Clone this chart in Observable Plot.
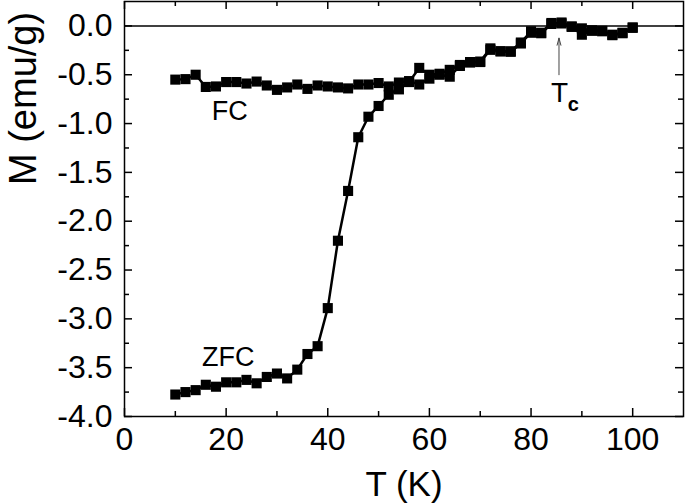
<!DOCTYPE html>
<html><head><meta charset="utf-8">
<script src="https://cdn.jsdelivr.net/npm/d3@7"></script>
<script src="https://cdn.jsdelivr.net/npm/@observablehq/plot@0.6"></script>
<style>body{margin:0;background:#fff} #chart svg{display:block}</style>
</head><body><div id="chart"></div>
<script>
// Temperature (K)
const temps = [10,12,14,16,18,20,22,24,26,28,30,32,34,36,38,40,42,44,46,48,50,52,54,56,58,60,62,64,66,68,70,72,74,76,78,80,82,84,86,88,90,92,94,96,98,100];
// Field-cooled magnetization (emu/g)
const fcM = [-0.55,-0.545,-0.50,-0.625,-0.62,-0.575,-0.575,-0.59,-0.57,-0.61,-0.655,-0.63,-0.60,-0.645,-0.61,-0.62,-0.63,-0.64,-0.60,-0.60,-0.585,-0.62,-0.58,-0.565,-0.60,-0.54,-0.50,-0.52,-0.41,-0.375,-0.37,-0.245,-0.26,-0.265,-0.18,-0.07,-0.075,0.02,0.035,-0.01,-0.025,-0.05,-0.055,-0.09,-0.075,-0.02];
// Zero-field-cooled magnetization (emu/g)
const zfcM = [-3.775,-3.75,-3.73,-3.675,-3.695,-3.65,-3.65,-3.625,-3.66,-3.595,-3.56,-3.61,-3.52,-3.36,-3.28,-2.89,-2.20,-1.69,-1.14,-0.93,-0.82,-0.705,-0.65,-0.575,-0.43,-0.50,-0.49,-0.45,-0.40,-0.37,-0.365,-0.23,-0.26,-0.26,-0.17,-0.055,-0.07,0.03,0.025,-0.005,-0.09,-0.045,-0.05,-0.095,-0.07,-0.015];

const xTickLabels = [0,20,40,60,80,100];
const xMinorTicks = [10,30,50,70,90];
const yTickLabels = [-4,-3.5,-3,-2.5,-2,-1.5,-1,-0.5,0];
const yMinorTicks = [-3.75,-3.25,-2.75,-2.25,-1.75,-1.25,-0.75,-0.25];

const curveLabels = [{T: 20.7, M: -0.87, text: "FC"}, {T: 20.4, M: -3.39, text: "ZFC"}];
const tcArrow = [{T: 85.5, M1: -0.50, M2: -0.125}];
const tcLabel = [{T: 85.6, M: -0.69}];
const tcSub = [{T: 88.3, M: -0.81}];

const fc = temps.map((t, i) => ({T: t, M: fcM[i]}));
const zfc = temps.map((t, i) => ({T: t, M: zfcM[i]}));

const W = 685, H = 503, mL = 124, mR = 2, mT = 1, mB = 87;
const fw = W - mL - mR, fh = H - mT - mB;
const font = "Liberation Sans, Arial, Helvetica, sans-serif";

const plot = Plot.plot({
  width: W, height: H,
  marginLeft: mL, marginRight: mR, marginTop: mT, marginBottom: mB,
  style: {fontFamily: font, background: "white", color: "black", overflow: "visible"},
  x: {domain: [0, 110]},
  y: {domain: [-4, 0.25]},
  marks: [
    Plot.axisX(xTickLabels, {tickSize: 0, tickPadding: 11, fontSize: 32, tickFormat: d => String(d), label: null}),
    Plot.axisY(yTickLabels, {tickSize: 0, tickPadding: 12, fontSize: 32, tickFormat: d => d.toFixed(1), label: null}),
    // inward ticks on all four sides
    Plot.tickX(xTickLabels, {x: d => d, insetTop: fh - 8, stroke: "black", strokeWidth: 1.5}),
    Plot.tickX(xMinorTicks, {x: d => d, insetTop: fh - 5, stroke: "black", strokeWidth: 1.5}),
    Plot.tickX(xTickLabels, {x: d => d, insetBottom: fh - 8, stroke: "black", strokeWidth: 1.5}),
    Plot.tickX(xMinorTicks, {x: d => d, insetBottom: fh - 5, stroke: "black", strokeWidth: 1.5}),
    Plot.tickY(yTickLabels, {y: d => d, insetRight: fw - 8, stroke: "black", strokeWidth: 1.5}),
    Plot.tickY(yMinorTicks, {y: d => d, insetRight: fw - 5, stroke: "black", strokeWidth: 1.5}),
    Plot.tickY(yTickLabels, {y: d => d, insetLeft: fw - 8, stroke: "black", strokeWidth: 1.5}),
    Plot.tickY(yMinorTicks, {y: d => d, insetLeft: fw - 5, stroke: "black", strokeWidth: 1.5}),
    Plot.ruleY([0], {stroke: "black", strokeWidth: 1.5}),
    Plot.frame({stroke: "black", strokeWidth: 1.5}),
    Plot.line(zfc, {x: "T", y: "M", stroke: "black", strokeWidth: 2.5}),
    Plot.line(fc, {x: "T", y: "M", stroke: "black", strokeWidth: 2.5}),
    Plot.dot(zfc, {x: "T", y: "M", symbol: "square", r: 5.7, fill: "black", stroke: "none"}),
    Plot.dot(fc, {x: "T", y: "M", symbol: "square", r: 5.7, fill: "black", stroke: "none"}),
    Plot.text(curveLabels, {x: "T", y: "M", text: "text", fontSize: 27, lineAnchor: "middle", fill: "black"}),
    Plot.arrow(tcArrow, {x1: "T", x2: "T", y1: "M1", y2: "M2", stroke: "#444", strokeWidth: 1, headLength: 11, headAngle: 30}),
    Plot.text(tcLabel, {x: "T", y: "M", text: d => "T", fontSize: 28, lineAnchor: "middle", fill: "black"}),
    Plot.text(tcSub, {x: "T", y: "M", text: d => "c", fontSize: 20, fontWeight: "bold", lineAnchor: "middle", fill: "black"}),
    Plot.text(["T (K)"], {frameAnchor: "bottom", text: d => d, dy: 68, lineAnchor: "middle", fontSize: 35, fill: "black"}),
    Plot.text(["M (emu/g)"], {frameAnchor: "left", text: d => d, rotate: -90, dx: -101, dy: -24, lineAnchor: "middle", fontSize: 38, fill: "black"})
  ]
});
document.getElementById("chart").appendChild(plot);
</script>
</body></html>
